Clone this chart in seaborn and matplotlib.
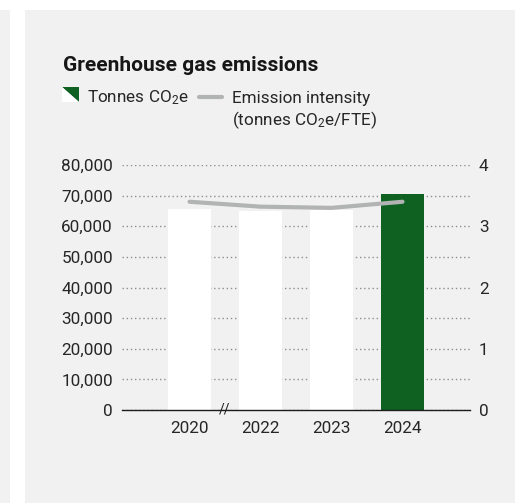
import numpy as np
import pandas as pd
import matplotlib
matplotlib.use("Agg")
import matplotlib.pyplot as plt
import seaborn as sns
from matplotlib.patches import Rectangle, Polygon
from matplotlib.lines import Line2D

# ---------------- data ----------------
years = ["2020", "2022", "2023", "2024"]
tonnes = [65500, 65000, 65300, 70500]
intensity = [3.40, 3.32, 3.30, 3.40]
bar_colors = ["#ffffff", "#ffffff", "#ffffff", "#0e6121"]
left_ticks = [0, 10000, 20000, 30000, 40000, 50000, 60000, 70000, 80000]
right_ticks = [0, 1, 2, 3, 4]
title = "Greenhouse gas emissions"
legend_bar = "Tonnes CO$_2$e"
legend_line = ["Emission intensity", "(tonnes CO$_2$e/FTE)"]

# ---------------- style ----------------
PANEL = "#f0f1f0"
TEXT = "#262626"
GRID = "#8e8e8e"
LINE = "#b2b4b3"

sns.set_theme(style="white")
plt.rcParams["font.family"] = ["Roboto", "DejaVu Sans"]
plt.rcParams["mathtext.default"] = "regular"
FS = 12.3

W, H = 515, 503
fig = plt.figure(figsize=(W / 100, H / 100), dpi=100, facecolor="white")


def fx(px):
    return px / W


def fy(py):
    return 1 - py / H


# background panels
fig.patches.append(Rectangle((0, 0), fx(10), fy(10), transform=fig.transFigure,
                             facecolor=PANEL, edgecolor="none", zorder=-5))
fig.patches.append(Rectangle((fx(25), 0), 1 - fx(25), fy(10), transform=fig.transFigure,
                             facecolor=PANEL, edgecolor="none", zorder=-5))

# ---------------- main axes ----------------
ax = fig.add_axes([fx(122), fy(410), fx(470) - fx(122), fy(165) - fy(410)])
ax.set_facecolor("none")
df = pd.DataFrame({"year": years, "tonnes": tonnes, "intensity": intensity,
                   "pos": np.arange(len(years))})
sns.barplot(data=df, x="year", y="tonnes", hue="year", palette=bar_colors,
            width=43 / 71, saturation=1, linewidth=0, legend=False, ax=ax)
ax.set_axisbelow(True)
ax.yaxis.grid(True, linestyle=(0, (1, 2)), color=GRID, lw=1.0)
ax.xaxis.grid(False)
ax.set_ylim(0, 80000)
ax.set_yticks(left_ticks)
ax.set_yticklabels([f"{v:,}" for v in left_ticks])
for s in ["top", "left", "right"]:
    ax.spines[s].set_visible(False)
ax.spines["bottom"].set_color("#1c1c1c")
ax.spines["bottom"].set_linewidth(1.0)
ax.spines["bottom"].set_zorder(5)
ax.tick_params(axis="y", length=0, pad=6.5, labelsize=FS, colors=TEXT)
ax.tick_params(axis="x", length=0, pad=8, labelsize=FS, colors=TEXT)
ax.set_xlabel("")
ax.set_ylabel("")

# axis break
ax.text(0.5, 0, "//", transform=ax.get_xaxis_transform(), ha="center", va="center",
        fontsize=10, color="#1c1c1c", zorder=6)

# ---------------- secondary axis ----------------
ax2 = ax.twinx()
sns.lineplot(data=df, x="pos", y="intensity", color=LINE, lw=3.0, ax=ax2,
             solid_capstyle="round", zorder=4)
ax2.set_ylim(0, 4)
ax2.set_yticks(right_ticks)
ax2.set_yticklabels([str(v) for v in right_ticks])
for s in ax2.spines.values():
    s.set_visible(False)
ax2.tick_params(axis="y", length=0, pad=6.5, labelsize=FS, colors=TEXT)
ax2.set_xlabel("")
ax2.set_ylabel("")
ax2.grid(False)
ax.set_xlim(-0.9507, 3.9507)

# ---------------- title & legend ----------------
t = fig.text(fx(63), fy(70.7), title, ha="left", va="baseline", fontsize=15,
             fontweight="bold", color="#161616")

fig.patches.append(Polygon([[fx(62), fy(87)], [fx(79), fy(87)], [fx(79), fy(102)]],
                           closed=True, transform=fig.transFigure, facecolor="#0e6121",
                           edgecolor="none"))
fig.patches.append(Polygon([[fx(62), fy(87)], [fx(62), fy(102)], [fx(79), fy(102)]],
                           closed=True, transform=fig.transFigure, facecolor="white",
                           edgecolor="none"))
fig.text(fx(87), fy(102.7), legend_bar, ha="left", va="baseline", fontsize=FS, color=TEXT)
fig.lines.append(Line2D([fx(199), fx(222)], [fy(97), fy(97)], transform=fig.transFigure,
                        color=LINE, lw=3.0, solid_capstyle="round"))
fig.text(fx(232), fy(102.7), legend_line[0], ha="left", va="baseline", fontsize=FS, color=TEXT)
fig.text(fx(232), fy(125.5), legend_line[1], ha="left", va="baseline", fontsize=FS, color=TEXT)

fig.savefig("out.png", dpi=100, facecolor="white")
